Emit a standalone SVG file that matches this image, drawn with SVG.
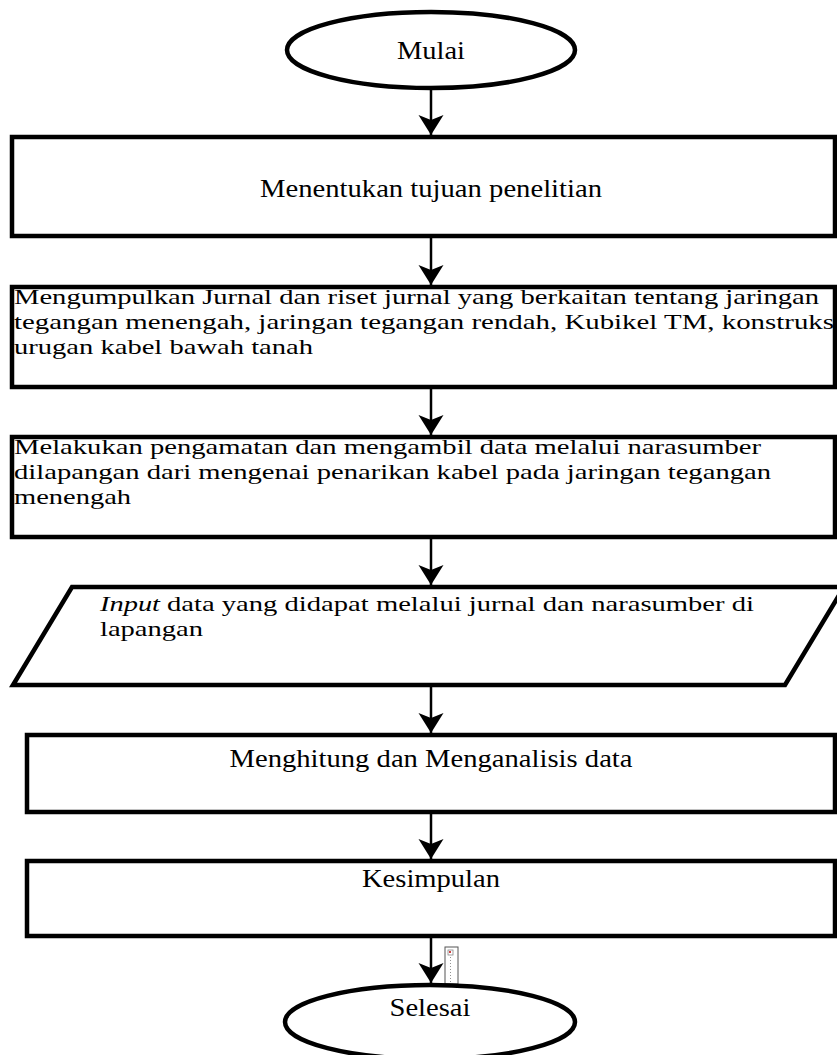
<svg xmlns="http://www.w3.org/2000/svg" width="837" height="1055" viewBox="0 0 837 1055">
<style>
.shape{fill:#ffffff;stroke:#000000;stroke-width:4.5}
.t{font-family:"Liberation Serif","Times New Roman",serif;font-size:25px;fill:#000000}
.m{font-size:22px}
.c{text-anchor:middle}
.conn{stroke:#000000;stroke-width:2.5;fill:none}
</style>
<defs>
<marker id="ah" markerUnits="userSpaceOnUse" markerWidth="26" markerHeight="26" refX="20" refY="12.5" orient="auto">
<path d="M0,0 L20,12.5 L0,25 L5,12.5 Z" fill="#000000"/>
</marker>
</defs>
<rect width="837" height="1055" fill="#ffffff"/>
<g id="connectors">
<line class="conn" x1="431" y1="88" x2="431" y2="135" marker-end="url(#ah)"/>
<line class="conn" x1="431" y1="236" x2="431" y2="285" marker-end="url(#ah)"/>
<line class="conn" x1="431" y1="387" x2="431" y2="435" marker-end="url(#ah)"/>
<line class="conn" x1="431" y1="537" x2="431" y2="585" marker-end="url(#ah)"/>
<line class="conn" x1="431" y1="685" x2="431" y2="733" marker-end="url(#ah)"/>
<line class="conn" x1="431" y1="812" x2="431" y2="859" marker-end="url(#ah)"/>
<line class="conn" x1="431" y1="936" x2="431" y2="983" marker-end="url(#ah)"/>
</g>
<g id="mulai">
<ellipse class="shape" cx="431" cy="50" rx="144" ry="38"/>
<text class="t c" x="431" y="59" textLength="68" lengthAdjust="spacingAndGlyphs">Mulai</text>
</g>
<g id="tujuan">
<rect class="shape" x="12" y="137" width="823" height="99"/>
<text class="t c" x="431" y="197" textLength="342" lengthAdjust="spacingAndGlyphs">Menentukan tujuan penelitian</text>
</g>
<g id="jurnal">
<rect class="shape" x="12" y="287" width="823" height="100"/>
<text class="t m" x="14" y="304" textLength="805" lengthAdjust="spacingAndGlyphs">Mengumpulkan Jurnal dan riset jurnal yang berkaitan tentang jaringan</text>
<text class="t m" x="14" y="329" textLength="828" lengthAdjust="spacingAndGlyphs">tegangan menengah, jaringan tegangan rendah, Kubikel TM, konstruksi</text>
<text class="t m" x="14" y="354" textLength="299" lengthAdjust="spacingAndGlyphs">urugan kabel bawah tanah</text>
</g>
<g id="pengamatan">
<rect class="shape" x="12" y="437" width="823" height="100"/>
<text class="t m" x="14" y="454" textLength="747" lengthAdjust="spacingAndGlyphs">Melakukan pengamatan dan mengambil data melalui narasumber</text>
<text class="t m" x="14" y="479" textLength="757" lengthAdjust="spacingAndGlyphs">dilapangan dari mengenai penarikan kabel pada jaringan tegangan</text>
<text class="t m" x="14" y="504" textLength="117" lengthAdjust="spacingAndGlyphs">menengah</text>
</g>
<g id="input">
<polygon class="shape" points="72,587 844,587 785,685 13,685"/>
<text class="t m" x="100" y="611" font-style="italic" textLength="60" lengthAdjust="spacingAndGlyphs">Input</text>
<text class="t m" x="167" y="611" textLength="587" lengthAdjust="spacingAndGlyphs">data yang didapat melalui jurnal dan narasumber di</text>
<text class="t m" x="100" y="636" textLength="103" lengthAdjust="spacingAndGlyphs">lapangan</text>
</g>
<g id="analisis">
<rect class="shape" x="27" y="735" width="808" height="77"/>
<text class="t c" x="431" y="767" textLength="403" lengthAdjust="spacingAndGlyphs">Menghitung dan Menganalisis data</text>
</g>
<g id="kesimpulan">
<rect class="shape" x="27" y="861" width="808" height="75"/>
<text class="t c" x="431" y="887" textLength="138" lengthAdjust="spacingAndGlyphs">Kesimpulan</text>
</g>
<g id="anchor-mark">
<rect x="445" y="947" width="13" height="37" fill="#ffffff" stroke="#555555" stroke-width="1"/>
<rect x="448" y="950" width="5" height="5" fill="#ffffff" stroke="#888888" stroke-width="0.8"/>
<rect x="449" y="951" width="2" height="2" fill="#d04040"/>
<line x1="450.5" y1="957" x2="450.5" y2="983" stroke="#777777" stroke-width="0.8" stroke-dasharray="1,2"/>
</g>
<g id="selesai">
<ellipse class="shape" cx="430" cy="1022" rx="145" ry="37"/>
<text class="t c" x="430" y="1016" textLength="81" lengthAdjust="spacingAndGlyphs">Selesai</text>
</g>
</svg>
